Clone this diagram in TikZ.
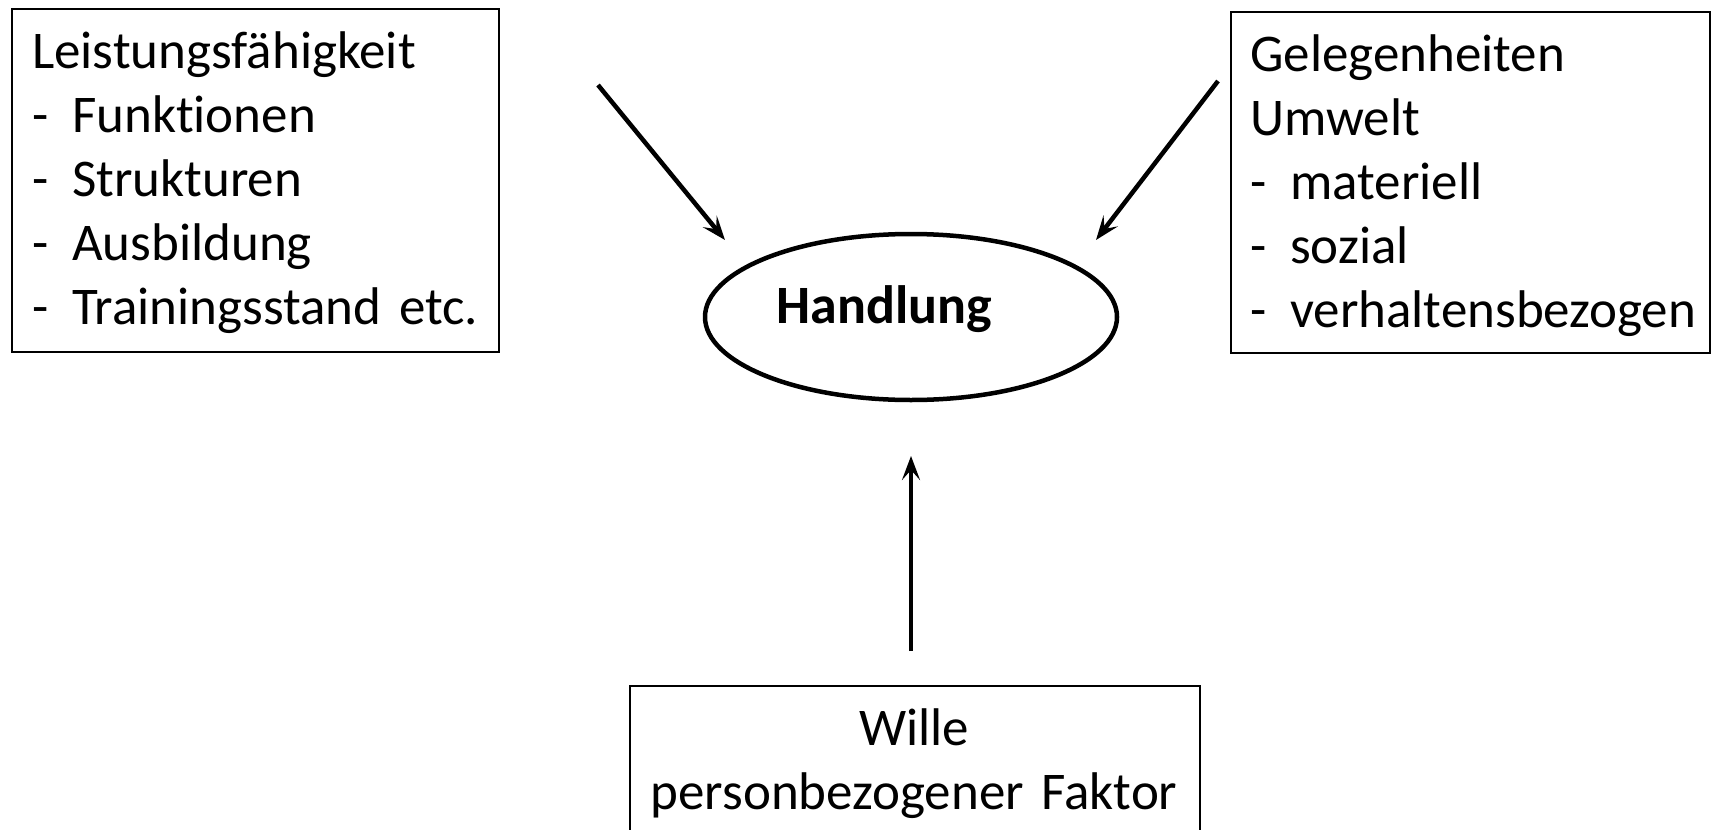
\documentclass[tikz,border=0pt]{standalone}
\usepackage{fontspec}
\setmainfont[RawFeature=-liga]{Carlito}
\usetikzlibrary{arrows.meta,shapes.geometric,calc}
\newcommand{\bodyfont}{\fontsize{53}{64}\selectfont\spaceskip=0.17em\relax}
\begin{document}
\begin{tikzpicture}[x=1pt,y=-1pt,
  box/.style={draw,line width=2pt,rectangle,anchor=north west,inner sep=0pt},
  txt/.style={anchor=base west,inner sep=0pt,text width=#1,align=left,font=\bodyfont},
  conn/.style={line width=4.5pt,-{Stealth[length=24pt,width=18pt,inset=10pt]}}]
\useasboundingbox (0,0) rectangle (1711,830);
% left box
\node[box,minimum width=487pt,minimum height=343pt] (L) at (11,8) {};
\node[txt=460pt] (Lt) at (32,68) {Leistungsf\"ahigkeit\\
\makebox[40pt][l]{-}Funktionen\\
\makebox[40pt][l]{-}Strukturen\\
\makebox[40pt][l]{-}Ausbildung\\
\makebox[40pt][l]{-}Trainingsstand etc.};
% right box
\node[box,minimum width=479pt,minimum height=341pt] (R) at (1230,11) {};
\node[txt=470pt] (Rt) at (1250,71) {Gelegenheiten\\
Umwelt\\
\makebox[40pt][l]{-}materiell\\
\makebox[40pt][l]{-}sozial\\
\makebox[40pt][l]{-}verhaltensbezogen};
% ellipse
\node[draw,ellipse,line width=4.5pt,minimum width=412pt,minimum height=166pt,inner sep=0pt] (H) at (911,317) {};
\node[anchor=base,inner sep=0pt,font=\fontsize{54}{60}\selectfont\bfseries] (Ht) at (884,323) {Handlung};
% bottom box
\node[box,minimum width=570pt,minimum height=200pt] (B) at (629,685) {};
\node[anchor=base,inner sep=0pt,text width=570pt,align=center,font=\bodyfont] (Bt) at (914,745) {Wille\\personbezogener Faktor};
% arrows
\coordinate (a1) at (598,85);
\coordinate (a1e) at (725,240);
\coordinate (a2) at (1218,81);
\coordinate (a2e) at (1096,240);
\coordinate (a3) at (911,651);
\coordinate (a3e) at (911,456);
\draw[conn] (a1) -- (a1e);
\draw[conn] (a2) -- (a2e);
\draw[conn] (a3) -- (a3e);
\end{tikzpicture}
\end{document}
